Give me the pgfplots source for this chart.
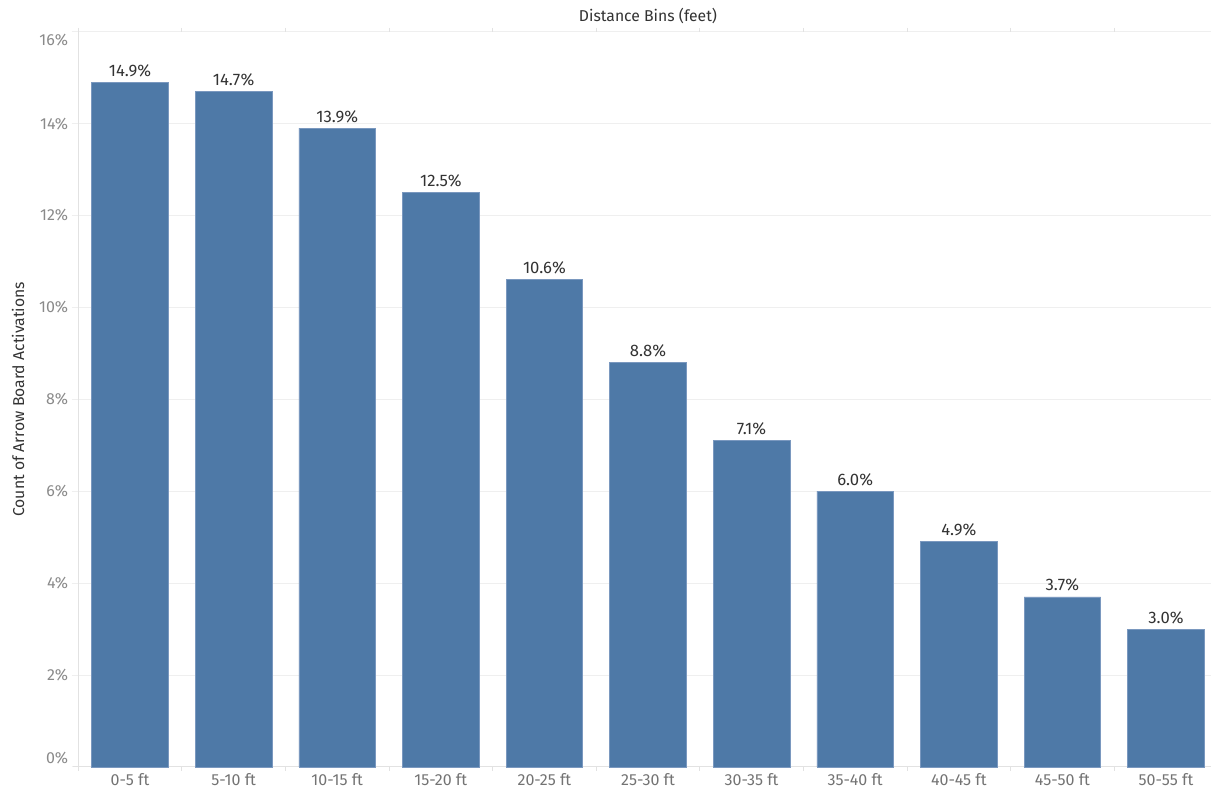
\documentclass[border=0pt]{standalone}
\usepackage{pgfplots}
\pgfplotsset{compat=1.18}
\usepackage{fontspec}
\setmainfont{Fira Sans}
\definecolor{barblue}{HTML}{4E79A7}
\definecolor{baredge}{HTML}{7A98BF}
\definecolor{gridc}{HTML}{EFEFEF}
\definecolor{axisc}{HTML}{E2E2E2}
\definecolor{tickc}{HTML}{8A8A8A}
\definecolor{labc}{HTML}{333333}

\pgfplotstableread{
x share
0 14.9
1 14.7
2 13.9
3 12.5
4 10.6
5 8.8
6 7.1
7 6.0
8 4.9
9 3.7
10 3.0
}\distbins

\newcommand{\pct}{\pgfmathprintnumber{\tick}\%}

\begin{document}
\begin{tikzpicture}
\useasboundingbox (-58.65pt,-18pt) rectangle (849.6pt,575.25pt);
\begin{axis}[
  at={(0,0)}, anchor=south west,
  scale only axis,
  width=854.7pt, height=551.5pt,
  xmin=-0.5, xmax=10.5,
  ymin=0, ymax=16,
  axis line style={draw=none},
  ytick={0,2,...,16},
  xtick=data,
  xticklabels={0-5 ft,5-10 ft,10-15 ft,15-20 ft,20-25 ft,25-30 ft,30-35 ft,35-40 ft,40-45 ft,45-50 ft,50-55 ft},
  minor xtick={-0.5,0.5,...,10.5},
  major x tick style={draw=none},
  minor x tick style={draw=axisc, line width=0.75pt},
  minor tick length=3pt,
  y tick style={draw=gridc, line width=0.75pt},
  major tick length=5pt,
  tick align=outside,
  ymajorgrids,
  major grid style={draw=gridc, line width=0.75pt},
  /pgf/number format/assume math mode=true,
  yticklabel={\ifcase\ticknum\raisebox{6.5pt}[\height][\depth]{\pct}\or\pct\or\pct\or\pct\or\pct\or\pct\or\pct\or\pct\or\raisebox{-6pt}[\height][\depth]{\pct}\fi},
  yticklabel style={font=\fontsize{12}{14}\selectfont, text=tickc, xshift=1pt},
  xticklabel style={font=\fontsize{12}{14}\selectfont, text=gray!90!black, yshift=3.5pt},
  ylabel={Count of Arrow Board Activations},
  ylabel style={at={(axis description cs:-0.05265,0.5)}, anchor=center, font=\fontsize{11.8}{13}\selectfont, text=labc},
  xlabel={Distance Bins (feet)},
  xlabel style={at={(axis description cs:0.5,1)}, yshift=11.8pt, anchor=center, font=\fontsize{11.8}{13}\selectfont, text=labc},
  clip=false,
]
\draw[axisc, line width=0.75pt] (axis cs:-0.5,0) -- (axis cs:-0.5,16);
\draw[axisc, line width=0.75pt] (axis cs:-0.55,0) -- (axis cs:10.5,0);
\addplot[ybar, bar width=0.74, fill=barblue, draw=baredge, line width=0.5pt,
  nodes near coords={\pgfmathprintnumber[fixed,fixed zerofill,precision=1]{\pgfplotspointmeta}\%},
  nodes near coords style={font=\fontsize{12.5}{14}\selectfont, text=labc, anchor=south, yshift=0.5pt},
  point meta=explicit]
  table[x=x, y=share, meta=share] {\distbins};
\end{axis}
\end{tikzpicture}
\end{document}
